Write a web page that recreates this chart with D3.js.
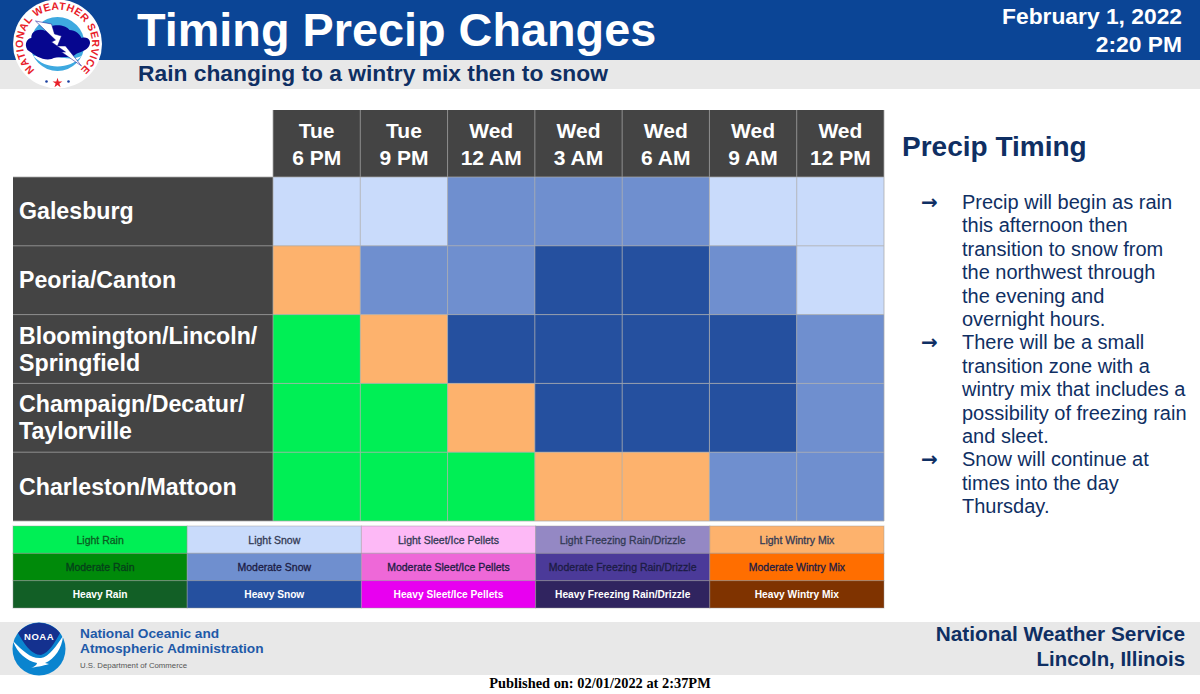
<!DOCTYPE html>
<html>
<head>
<meta charset="utf-8">
<script src="https://cdn.jsdelivr.net/npm/d3@7"></script>
<style>
  html, body { margin: 0; padding: 0; background: #fff; }
  svg { display: block; }
  text { font-family: "Liberation Sans", Arial, sans-serif; }
</style>
</head>
<body>
<svg id="chart" width="1200" height="694"></svg>
<script>
const times = [["Tue", "6 PM"], ["Tue", "9 PM"], ["Wed", "12 AM"], ["Wed", "3 AM"], ["Wed", "6 AM"], ["Wed", "9 AM"], ["Wed", "12 PM"]];
const places = [["Galesburg"], ["Peoria/Canton"], ["Bloomington/Lincoln/", "Springfield"], ["Champaign/Decatur/", "Taylorville"], ["Charleston/Mattoon"]];
const galesburg = ["Light Snow", "Light Snow", "Moderate Snow", "Moderate Snow", "Moderate Snow", "Light Snow", "Light Snow"];
const peoria = ["Light Wintry Mix", "Moderate Snow", "Moderate Snow", "Heavy Snow", "Heavy Snow", "Moderate Snow", "Light Snow"];
const bloomington = ["Light Rain", "Light Wintry Mix", "Heavy Snow", "Heavy Snow", "Heavy Snow", "Heavy Snow", "Moderate Snow"];
const champaign = ["Light Rain", "Light Rain", "Light Wintry Mix", "Heavy Snow", "Heavy Snow", "Heavy Snow", "Moderate Snow"];
const charleston = ["Light Rain", "Light Rain", "Light Rain", "Light Wintry Mix", "Light Wintry Mix", "Moderate Snow", "Moderate Snow"];
const grid = [galesburg, peoria, bloomington, champaign, charleston];

const levels = ["Light", "Moderate", "Heavy"];
const kinds = ["Rain", "Snow", "Sleet/Ice Pellets", "Freezing Rain/Drizzle", "Wintry Mix"];
const kindColors = [
  ["#00ef55", "#008a0a", "#125f26"],
  ["#c9dbfb", "#6f8fcf", "#25509f"],
  ["#fdb9f6", "#ee68d8", "#e800f0"],
  ["#9488c4", "#4b3a99", "#30245f"],
  ["#fdb26d", "#ff6e00", "#7f3300"]
];
const kindText = ["#0b5c22", "#06401a", "#ffffff"];

const bullets = [
  ["Precip will begin as rain", "this afternoon then", "transition to snow from", "the northwest through", "the evening and", "overnight hours."],
  ["There will be a small", "transition zone with a", "wintry mix that includes a", "possibility of freezing rain", "and sleet."],
  ["Snow will continue at", "times into the day", "Thursday."]
];

const colorOf = new Map();
kinds.forEach((k, i) => levels.forEach((l, j) => colorOf.set(l + " " + k, kindColors[i][j])));

const svg = d3.select("#chart");
const navy = "#0f2f63";

// banners
svg.append("rect").attr("width", 1200).attr("height", 60).attr("fill", "#0b4596");
svg.append("rect").attr("y", 60).attr("width", 1200).attr("height", 29).attr("fill", "#e8e8e8");
svg.append("rect").attr("y", 622).attr("width", 1200).attr("height", 53).attr("fill", "#e8e8e8");

svg.append("text").attr("x", 137).attr("y", 46).attr("fill", "#fff")
  .attr("font-size", 46.8).attr("font-weight", 700).text("Timing Precip Changes");
svg.append("text").attr("x", 138).attr("y", 81).attr("fill", navy)
  .attr("font-size", 22.8).attr("font-weight", 700).text("Rain changing to a wintry mix then to snow");
svg.append("text").attr("x", 1182).attr("y", 24).attr("fill", "#fff").attr("text-anchor", "end")
  .attr("font-size", 22.8).attr("font-weight", 700).text("February 1, 2022");
svg.append("text").attr("x", 1182).attr("y", 52).attr("fill", "#fff").attr("text-anchor", "end")
  .attr("font-size", 22.8).attr("font-weight", 700).text("2:20 PM");

// timing grid
const x = d3.scaleBand().domain(d3.range(times.length)).range([273, 884]);
const y = d3.scaleBand().domain(d3.range(places.length)).range([177, 521]);
const headerTop = 110, labelLeft = 13;

svg.append("rect").attr("x", x.range()[0]).attr("y", headerTop)
  .attr("width", x.range()[1] - x.range()[0]).attr("height", y.range()[0] - headerTop).attr("fill", "#444444");
svg.append("rect").attr("x", labelLeft).attr("y", y.range()[0])
  .attr("width", x.range()[0] - labelLeft).attr("height", y.range()[1] - y.range()[0]).attr("fill", "#444444");

const header = svg.append("g").selectAll("g").data(times).join("g")
  .attr("transform", (d, i) => `translate(${x(i) + x.bandwidth() / 2},0)`);
header.append("text").attr("y", 138).attr("text-anchor", "middle").attr("fill", "#fff")
  .attr("font-size", 21).attr("font-weight", 700).text(d => d[0]);
header.append("text").attr("y", 165).attr("text-anchor", "middle").attr("fill", "#fff")
  .attr("font-size", 21).attr("font-weight", 700).text(d => d[1]);

const rows = svg.append("g").selectAll("g").data(grid).join("g")
  .attr("transform", (d, i) => `translate(0,${y(i)})`);
rows.selectAll("rect").data(d => d).join("rect")
  .attr("x", (d, i) => x(i)).attr("width", x.bandwidth()).attr("height", y.bandwidth())
  .attr("fill", d => colorOf.get(d));

// thin separators between cells
const lines = svg.append("g").attr("stroke", "#a9a9a9").attr("stroke-width", 1).attr("opacity", 0.75);
x.domain().forEach(i => {
  lines.append("line").attr("x1", x(i)).attr("x2", x(i)).attr("y1", headerTop).attr("y2", y.range()[1]);
});
lines.append("line").attr("x1", x.range()[1]).attr("x2", x.range()[1]).attr("y1", headerTop).attr("y2", y.range()[1]);
y.domain().forEach(i => {
  lines.append("line").attr("x1", labelLeft).attr("x2", x.range()[1]).attr("y1", y(i)).attr("y2", y(i));
});
lines.append("line").attr("x1", labelLeft).attr("x2", x.range()[1]).attr("y1", y.range()[1]).attr("y2", y.range()[1]);

svg.append("g").selectAll("text").data(places).join("text")
  .attr("fill", "#fff").attr("font-size", 23.2).attr("font-weight", 700)
  .each(function (d, i) {
    const mid = y(i) + y.bandwidth() / 2;
    d3.select(this).selectAll("tspan").data(d).join("tspan")
      .attr("x", 19)
      .attr("y", (t, j) => mid + 8 + (j - (d.length - 1) / 2) * 27)
      .text(t => t);
  });

// legend
const lx = d3.scaleBand().domain(kinds).range([13, 884]);
const ly = d3.scaleBand().domain(levels).range([526, 608]);
const legend = svg.append("g").selectAll("g").data(kinds).join("g")
  .attr("transform", d => `translate(${lx(d)},0)`);
legend.selectAll("rect").data((d, i) => levels.map((l, j) => ({ l, kind: d, color: kindColors[i][j] }))).join("rect")
  .attr("y", d => ly(d.l)).attr("width", lx.bandwidth()).attr("height", ly.bandwidth())
  .attr("fill", d => d.color).attr("stroke", "#9a9a9a").attr("stroke-opacity", 0.45);
const legendInk = d => {
  if (d.j === 2) return "#fff";
  if (d.i === 0) return kindText[d.j];
  return d.j === 0 ? "#333a55" : "#1c1c44";
};
legend.selectAll("text").data((d, i) => levels.map((l, j) => ({ l, kind: d, i, j }))).join("text")
  .attr("x", lx.bandwidth() / 2).attr("y", d => ly(d.l) + ly.bandwidth() / 2 + 4)
  .attr("text-anchor", "middle").attr("font-size", d => d.j === 2 ? 10.2 : 10.5).attr("font-weight", d => d.j === 2 ? 700 : 400)
  .attr("fill", legendInk)
  .attr("stroke", legendInk).attr("stroke-width", d => d.j === 2 ? 0 : 0.3)
  .text(d => d.l + " " + d.kind);

// side panel
svg.append("text").attr("x", 902).attr("y", 156).attr("fill", navy)
  .attr("font-size", 28).attr("font-weight", 700).text("Precip Timing");

const lineStep = 23.4;
let lineNo = 0;
const panel = svg.append("g");
bullets.forEach(b => {
  const top = 209 + lineNo * lineStep;
  panel.append("text").attr("x", 921).attr("y", top).attr("fill", navy)
    .style("font-family", "'DejaVu Sans', sans-serif")
    .attr("font-size", 20).attr("font-weight", 700).text("→");
  b.forEach(t => {
    panel.append("text").attr("x", 962).attr("y", 209 + lineNo * lineStep)
      .attr("fill", navy).attr("font-size", 20).text(t);
    lineNo++;
  });
});

// footer
svg.append("text").attr("x", 80).attr("y", 638).attr("fill", "#1f5aa8")
  .attr("font-size", 13.7).attr("font-weight", 700).text("National Oceanic and");
svg.append("text").attr("x", 80).attr("y", 653).attr("fill", "#1f5aa8")
  .attr("font-size", 13.7).attr("font-weight", 700).text("Atmospheric Administration");
svg.append("text").attr("x", 80).attr("y", 668).attr("fill", "#555")
  .attr("font-size", 7.8).text("U.S. Department of Commerce");
svg.append("text").attr("x", 1185).attr("y", 641).attr("fill", navy).attr("text-anchor", "end")
  .attr("font-size", 20.8).attr("font-weight", 700).text("National Weather Service");
svg.append("text").attr("x", 1185).attr("y", 666).attr("fill", navy).attr("text-anchor", "end")
  .attr("font-size", 20.4).attr("font-weight", 700).text("Lincoln, Illinois");
svg.append("text").attr("x", 600).attr("y", 688).attr("text-anchor", "middle").attr("fill", "#000")
  .style("font-family", "'Liberation Serif', serif").attr("font-size", 14.4).attr("font-weight", 700)
  .text("Published on: 02/01/2022 at 2:37PM");

// NWS seal
const seal = svg.append("g").attr("transform", "translate(57.5,44)");
seal.append("circle").attr("r", 44.5).attr("fill", "#fff");
seal.append("circle").attr("r", 27).attr("fill", "#3ea9e0");
seal.append("path").attr("fill", "#fff")
  .attr("d", "M-24,12 C-12,26 12,26 24,12 C12,19 -12,8 -24,12Z");
seal.append("path").attr("fill", "#06068f")
  .attr("d", "M-30,6 C-34,0 -30,-6 -26,-6 C-27,-13 -18,-16 -12,-13 C-8,-21 8,-20 12,-14 C18,-14 22,-10 24,-6 C31,-8 35,-2 31,3 C27,8 20,8 16,12 C8,14 0,12 -6,15 C-14,17 -22,12 -30,6Z");
seal.append("path").attr("fill", "#fff").attr("stroke", "#06068f").attr("stroke-width", 0.5)
  .attr("d", "M-22,-23 L-6,-20 L-3,-10 L4,-8 L0,2 L8,2 L24,22 L4,8 L8,8 L-6,-2 L-2,-4 Z");
seal.append("defs").append("path").attr("id", "sealArc")
  .attr("d", "M-19.8,28.3 A34.5,34.5 0 1 1 19.8,28.3");
seal.append("text").attr("font-size", 10.5).attr("font-weight", 700).attr("fill", "#e8202a").attr("letter-spacing", 0.4)
  .append("textPath").attr("href", "#sealArc").attr("startOffset", "50%").attr("text-anchor", "middle")
  .text("NATIONAL WEATHER SERVICE");
seal.append("path").attr("fill", "#e8202a").attr("d", d3.symbol(d3.symbolStar, 30)()).attr("transform", "translate(0,39)");
seal.append("circle").attr("cx", -11).attr("cy", 37.5).attr("r", 1.3).attr("fill", "#1a3fa0");
seal.append("circle").attr("cx", 11).attr("cy", 37.5).attr("r", 1.3).attr("fill", "#1a3fa0");

// NOAA seal
const noaa = svg.append("g").attr("transform", "translate(39,649)");
noaa.append("circle").attr("r", 26.5).attr("fill", "#0a84cf");
noaa.append("path").attr("fill", "#fff")
  .attr("d", "M-26,-8 C-16,2 -8,10 2,9 C10,8 18,-4 24,-13 C23,-1 16,10 6,14 L10,15 C4,17 -4,18 -8,19 C-4,17 -2,16 -2,14 C-12,12 -22,4 -26,-8Z");
noaa.append("path").attr("fill", "#14318f")
  .attr("d", "M-21,-16 A26.5,26.5 0 0 1 21,-16 C16,-7 10,4 2,6 C-8,6 -16,-7 -21,-16Z");
noaa.append("text").attr("y", -9).attr("text-anchor", "middle").attr("fill", "#fff")
  .attr("font-size", 9.5).attr("font-weight", 700).attr("letter-spacing", 0.5).text("NOAA");
</script>
</body>
</html>
